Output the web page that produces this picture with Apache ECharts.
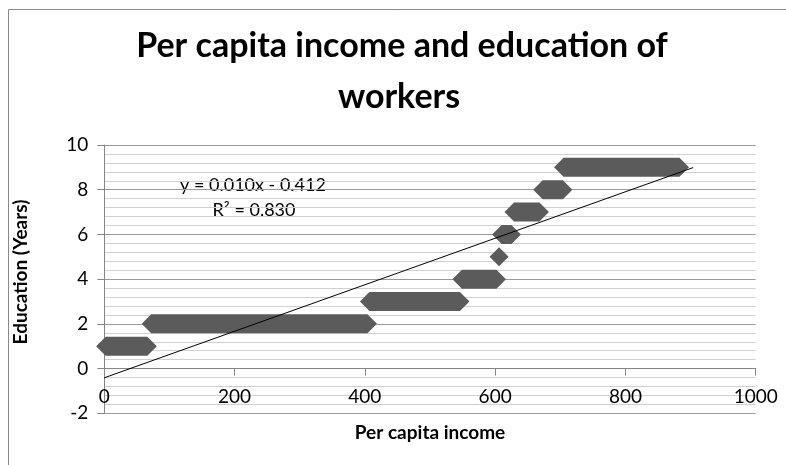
<!DOCTYPE html>
<html>
<head>
<meta charset="utf-8">
<script src="https://cdn.jsdelivr.net/npm/echarts@6/dist/echarts.min.js"></script>
<style>html,body{margin:0;padding:0;background:#fff;}#c{width:786px;height:465px;}</style>
</head>
<body>
<div id="c"></div>
<script>
// Education level (years) and the range of per capita income observed at each level
var educationLevels = [1, 2, 3, 4, 5, 6, 7, 8, 9];
var incomeMin = [2, 72, 407, 549, 606, 610, 629, 673, 705];
var incomeMax = [66, 404, 546, 602, 606, 625, 668, 704, 883];
// Linear trendline endpoints: y = 0.010x - 0.412
var trendX = [0, 904];
var trendY = [-0.412, 8.99];
var xTicks = [0, 200, 400, 600, 800, 1000];
var yTicks = [-2, 0, 2, 4, 6, 8, 10];

var FONT = 'Lato, "Open Sans", sans-serif';
var chart = echarts.init(document.getElementById('c'), null, {renderer: 'canvas'});

var rangeData = educationLevels.map(function (e, i) { return [e, incomeMin[i], incomeMax[i]]; });
var trendData = trendX.map(function (x, i) { return [x, trendY[i]]; });

var gridTop = 145, gridBottom = 51.7, chartH = 465;
var plotH = chartH - gridTop - gridBottom;
// offset (px) that moves the x axis from the plot bottom up to y = 0
var zeroOffset = -plotH * (0 - yTicks[0]) / (yTicks[yTicks.length - 1] - yTicks[0]);

chart.setOption({
  animation: false,
  backgroundColor: '#ffffff',
  grid: {left: 104.3, right: 30.3, top: gridTop, bottom: gridBottom, containLabel: false},
  graphic: [
    {type: 'rect', shape: {x: 8.5, y: 9.5, width: 820, height: 500}, style: {fill: 'none', stroke: '#8a8a8a', lineWidth: 1}, silent: true, z: -1},
    {type: 'text', x: 402, y: 46, style: {text: 'Per capita income and education of', font: 'bold 34px ' + FONT, fill: '#000', align: 'center', verticalAlign: 'middle'}},
    {type: 'text', x: 399, y: 97, style: {text: 'workers', font: 'bold 34px ' + FONT, fill: '#000', align: 'center', verticalAlign: 'middle'}},
    {type: 'text', x: 253, y: 185, style: {text: 'y = 0.010x - 0.412', font: '18px ' + FONT, fill: '#000', align: 'center', verticalAlign: 'middle'}},
    {type: 'text', x: 254, y: 210, style: {text: 'R² = 0.830', font: '18px ' + FONT, fill: '#000', align: 'center', verticalAlign: 'middle'}},
    {type: 'text', x: 430, y: 433, style: {text: 'Per capita income', font: 'bold 19px ' + FONT, fill: '#000', align: 'center', verticalAlign: 'middle'}},
    {type: 'text', x: 21, y: 272, rotation: Math.PI / 2, style: {text: 'Education (Years)', font: 'bold 19px ' + FONT, fill: '#000', align: 'center', verticalAlign: 'middle'}}
  ],
  xAxis: {
    type: 'value', min: xTicks[0], max: xTicks[xTicks.length - 1], interval: 200,
    offset: zeroOffset,
    axisLine: {show: true, onZero: false, lineStyle: {color: '#868686', width: 1}},
    axisTick: {show: true, length: 7, lineStyle: {color: '#868686'}},
    axisLabel: {fontSize: 19, fontFamily: FONT, color: '#000', margin: 19, formatter: function (v) { return String(v); }},
    splitLine: {show: false}
  },
  yAxis: {
    type: 'value', min: yTicks[0], max: yTicks[yTicks.length - 1], interval: 2,
    axisLine: {show: true, onZero: false, lineStyle: {color: '#868686', width: 1}},
    axisTick: {show: true, length: 7, lineStyle: {color: '#868686'}},
    axisLabel: {fontSize: 19, fontFamily: FONT, color: '#000', margin: 16},
    splitLine: {show: true, lineStyle: {color: '#9a9a9a', width: 1}},
    minorTick: {show: false, splitNumber: 5},
    minorSplitLine: {show: true, lineStyle: {color: '#d0d0d0', width: 1}}
  },
  series: [
    {
      type: 'custom',
      data: rangeData,
      encode: {x: [1, 2], y: 0},
      z: 3,
      renderItem: function (params, api) {
        var y = api.value(0);
        var a = api.coord([api.value(1), y]);
        var b = api.coord([api.value(2), y]);
        var h = 9.5;
        return {
          type: 'polygon',
          shape: {points: [[a[0] - h, a[1]], [a[0], a[1] - h], [b[0], b[1] - h], [b[0] + h, b[1]], [b[0], b[1] + h], [a[0], a[1] + h]]},
          style: {fill: '#5b5b5b', stroke: null}
        };
      }
    },
    {
      type: 'line',
      data: trendData,
      symbol: 'none',
      z: 4,
      lineStyle: {color: '#000', width: 1}
    }
  ]
});
</script>
</body>
</html>
